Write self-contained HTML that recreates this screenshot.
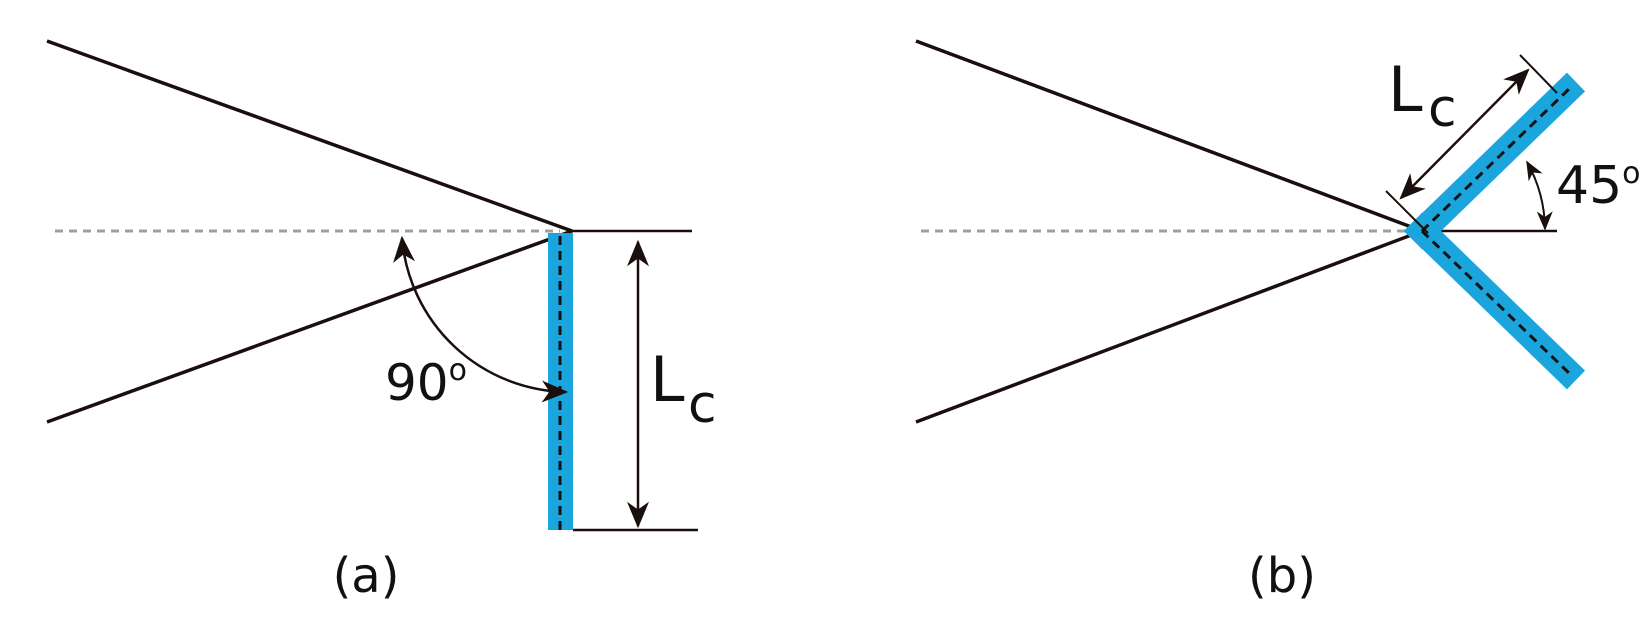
<!DOCTYPE html>
<html><head><meta charset="utf-8"><style>
html,body{margin:0;padding:0;background:#fff;}
svg{display:block;}
text{font-family:"DejaVu Sans","Liberation Sans",sans-serif;fill:#111;}
</style></head><body>
<svg width="1651" height="633" viewBox="0 0 1651 633" xmlns="http://www.w3.org/2000/svg">
<defs>
<marker id="a" viewBox="0 0 12 10" refX="11" refY="5" markerWidth="28" markerHeight="22" orient="auto-start-reverse" markerUnits="userSpaceOnUse">
<path d="M0,0 L12,5 L0,10 L3.5,5 Z" fill="#1a0f0d"/>
</marker>
<marker id="s" viewBox="0 0 12 10" refX="11" refY="5" markerWidth="20" markerHeight="16" orient="auto-start-reverse" markerUnits="userSpaceOnUse">
<path d="M0,0 L12,5 L0,10 L3.5,5 Z" fill="#1a0f0d"/>
</marker>
</defs>
<g stroke-linecap="butt">
<!-- (a) -->
<line x1="55" y1="231" x2="560" y2="231" stroke="#a0a0a0" stroke-width="3" stroke-dasharray="8,6"/>
<line x1="47" y1="41" x2="572" y2="231" stroke="#1a0f0d" stroke-width="3.5"/>
<line x1="47" y1="422" x2="572" y2="231" stroke="#1a0f0d" stroke-width="3.5"/>
<line x1="572" y1="231" x2="692" y2="231" stroke="#1a0f0d" stroke-width="2.5"/>
<rect x="548" y="233" width="25" height="297" fill="#1aa6dd"/>
<line x1="560" y1="236" x2="560" y2="530" stroke="#111" stroke-width="3" stroke-dasharray="9,6"/>
<line x1="573" y1="530" x2="698" y2="530" stroke="#1a0f0d" stroke-width="2.5"/>
<line x1="638" y1="242" x2="638" y2="526" stroke="#1a0f0d" stroke-width="2.5" marker-start="url(#a)" marker-end="url(#a)"/>
<path d="M402,238 A168,168 0 0 0 566,392" fill="none" stroke="#1a0f0d" stroke-width="2.5" marker-start="url(#a)" marker-end="url(#a)"/>
<!-- (b) -->
<line x1="921" y1="231" x2="1410" y2="231" stroke="#a0a0a0" stroke-width="3" stroke-dasharray="8,6"/>
<line x1="916" y1="41" x2="1422" y2="231" stroke="#1a0f0d" stroke-width="3.5"/>
<line x1="916" y1="422" x2="1422" y2="231" stroke="#1a0f0d" stroke-width="3.5"/>
<line x1="1422" y1="231" x2="1557" y2="231" stroke="#1a0f0d" stroke-width="2.5"/>
<line x1="1413" y1="240" x2="1576" y2="82" stroke="#1aa6dd" stroke-width="26"/>
<line x1="1413" y1="222" x2="1576" y2="380" stroke="#1aa6dd" stroke-width="26"/>
<line x1="1422" y1="231" x2="1570" y2="88" stroke="#111" stroke-width="3" stroke-dasharray="9,6"/>
<line x1="1422" y1="231" x2="1570" y2="374" stroke="#111" stroke-width="3" stroke-dasharray="9,6"/>
<line x1="1386" y1="191" x2="1428" y2="233" stroke="#1a0f0d" stroke-width="2"/>
<line x1="1520" y1="55" x2="1557" y2="93" stroke="#1a0f0d" stroke-width="2"/>
<line x1="1401" y1="198" x2="1528" y2="70" stroke="#1a0f0d" stroke-width="2.5" marker-start="url(#a)" marker-end="url(#a)"/>
<path d="M1527,162 A140,140 0 0 1 1545,229" fill="none" stroke="#1a0f0d" stroke-width="2" marker-start="url(#s)" marker-end="url(#s)"/>
</g>
<text x="385" y="400" font-size="50">90<tspan font-size="30" dy="-20">o</tspan></text>
<text x="650" y="401" font-size="62">L</text>
<text x="688" y="422" font-size="52">c</text>
<text x="1388" y="111" font-size="62">L</text>
<text x="1428" y="126" font-size="52">c</text>
<text x="1556" y="203" font-size="52">45<tspan font-size="30" dy="-20">o</tspan></text>
<text x="366" y="592" font-size="48" text-anchor="middle">(a)</text>
<text x="1282" y="592" font-size="48" text-anchor="middle">(b)</text>
</svg>
</body></html>
